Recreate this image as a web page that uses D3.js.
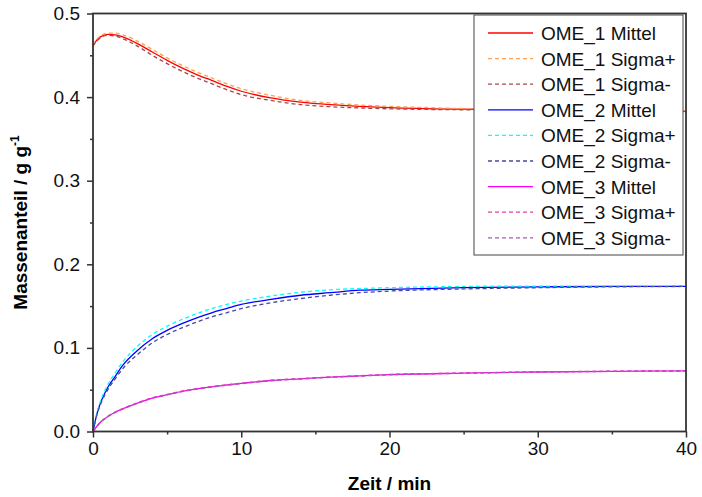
<!DOCTYPE html>
<meta charset="utf-8">
<script src="https://d3js.org/d3.v7.min.js"></script>
<body style="margin:0;background:#fff">
<div id="my_dataviz"></div>
</body>
<script>
    // time in minutes
    const zeit = [0, 0.25, 0.5, 1, 1.5, 2, 3, 4, 5, 6, 7, 8, 9, 10, 12, 14, 16, 18, 20, 25, 30, 35, 40];

    const ome1Mittel = [0.462, 0.468, 0.472, 0.475, 0.4745, 0.472, 0.464, 0.454, 0.444, 0.435, 0.427, 0.420, 0.413, 0.407, 0.399, 0.394, 0.391, 0.389, 0.3875, 0.3855, 0.3845, 0.3837, 0.383];
    const ome1SigmaPlus = [0.462, 0.469, 0.473, 0.4765, 0.4765, 0.4745, 0.467, 0.457, 0.447, 0.438, 0.430, 0.423, 0.416, 0.410, 0.402, 0.396, 0.393, 0.3905, 0.389, 0.3863, 0.385, 0.384, 0.3833];
    const ome1SigmaMinus = [0.461, 0.467, 0.471, 0.474, 0.473, 0.470, 0.461, 0.450, 0.440, 0.431, 0.423, 0.416, 0.409, 0.403, 0.396, 0.391, 0.3885, 0.387, 0.386, 0.3848, 0.384, 0.3833, 0.3828];

    const ome2Mittel = [0, 0.020, 0.034, 0.053, 0.066, 0.079, 0.097, 0.111, 0.121, 0.129, 0.136, 0.142, 0.147, 0.152, 0.158, 0.163, 0.166, 0.169, 0.170, 0.172, 0.173, 0.1735, 0.1737];
    const ome2SigmaPlus = [0, 0.021, 0.036, 0.056, 0.070, 0.083, 0.102, 0.116, 0.126, 0.134, 0.141, 0.147, 0.152, 0.156, 0.162, 0.1665, 0.1695, 0.171, 0.172, 0.1735, 0.174, 0.174, 0.1738];
    const ome2SigmaMinus = [0, 0.019, 0.032, 0.050, 0.063, 0.075, 0.092, 0.106, 0.116, 0.124, 0.131, 0.137, 0.142, 0.147, 0.154, 0.159, 0.163, 0.166, 0.168, 0.1705, 0.172, 0.173, 0.1735];

    const ome3Mittel = [0, 0.006, 0.011, 0.018, 0.023, 0.027, 0.034, 0.040, 0.044, 0.048, 0.051, 0.0535, 0.0556, 0.0575, 0.061, 0.063, 0.065, 0.0665, 0.068, 0.0698, 0.0712, 0.072, 0.0725];
    const ome3SigmaPlus = [0, 0.006, 0.0112, 0.0183, 0.0233, 0.0273, 0.0343, 0.0403, 0.0443, 0.0483, 0.0513, 0.0538, 0.0559, 0.0578, 0.0613, 0.0633, 0.0652, 0.0667, 0.0682, 0.0699, 0.0713, 0.0721, 0.0726];
    const ome3SigmaMinus = [0, 0.0058, 0.0108, 0.0177, 0.0227, 0.0267, 0.0337, 0.0397, 0.0437, 0.0477, 0.0507, 0.0532, 0.0553, 0.0572, 0.0607, 0.0627, 0.0648, 0.0663, 0.0678, 0.0697, 0.0711, 0.0719, 0.0724];

    const seriesNames = ["OME_1 Mittel", "OME_1 Sigma+", "OME_1 Sigma-", "OME_2 Mittel", "OME_2 Sigma+", "OME_2 Sigma-", "OME_3 Mittel", "OME_3 Sigma+", "OME_3 Sigma-"];
    const seriesValues = [ome1Mittel, ome1SigmaPlus, ome1SigmaMinus, ome2Mittel, ome2SigmaPlus, ome2SigmaMinus, ome3Mittel, ome3SigmaPlus, ome3SigmaMinus];
    const seriesColours = ["#ff0000", "#ffa050", "#a84848", "#0000ff", "#00ffff", "#4848a0", "#ff00ff", "#e8409a", "#a858b8"];

    const xTicks = [0, 10, 20, 30, 40];
    const yTicks = [0.0, 0.1, 0.2, 0.3, 0.4, 0.5];

    let width = 702, height = 497;
    let margin = {top: 13.5, right: 16, bottom: 65.5, left: 93};
    let innerW = width - margin.left - margin.right,
        innerH = height - margin.top - margin.bottom;

    const fontFam = "'Liberation Sans', Arial, sans-serif";
    const axisCol = "#333";

    var svg = d3.select("#my_dataviz")
        .append("svg")
        .attr("width", width)
        .attr("height", height)
        .style("display", "block")
        .append("g")
        .attr("transform", "translate(" + margin.left + "," + margin.top + ")");

    var x = d3.scaleLinear().domain([0, 40]).range([0, innerW]);
    var y = d3.scaleLinear().domain([0, 0.5]).range([innerH, 0]);

    // minor ticks
    svg.append("g")
        .attr("transform", "translate(0," + innerH + ")")
        .call(d3.axisBottom(x).tickValues([5, 15, 25, 35]).tickSize(3).tickFormat(""))
        .call(g => g.select(".domain").remove())
        .selectAll("line").attr("stroke", axisCol).attr("stroke-width", 1.5);
    svg.append("g")
        .call(d3.axisLeft(y).tickValues([0.05, 0.15, 0.25, 0.35, 0.45]).tickSize(3).tickFormat(""))
        .call(g => g.select(".domain").remove())
        .selectAll("line").attr("stroke", axisCol).attr("stroke-width", 1.5);

    // major ticks
    var xAxis = svg.append("g")
        .attr("transform", "translate(0," + innerH + ")")
        .call(d3.axisBottom(x).tickValues(xTicks).tickSize(6).tickPadding(4).tickFormat(d3.format("d")));
    xAxis.select(".domain").remove();
    xAxis.selectAll("line").attr("stroke", axisCol).attr("stroke-width", 1.5);
    xAxis.selectAll("text").style("font-family", fontFam).style("font-size", "19px").attr("fill", "#111");

    var yAxis = svg.append("g")
        .call(d3.axisLeft(y).tickValues(yTicks).tickSize(6).tickPadding(7).tickFormat(d3.format(".1f")));
    yAxis.select(".domain").remove();
    yAxis.selectAll("line").attr("stroke", axisCol).attr("stroke-width", 1.5);
    yAxis.selectAll("text").style("font-family", fontFam).style("font-size", "19px").attr("fill", "#111");

    // curves
    var line = d3.line()
        .x(function (d) { return x(d[0]); })
        .y(function (d) { return y(d[1]); })
        .curve(d3.curveMonotoneX);

    seriesValues.forEach(function (vals, i) {
        var pts = zeit.map(function (t, j) { return [t, vals[j]]; });
        svg.append("path")
            .datum(pts)
            .attr("fill", "none")
            .attr("stroke", seriesColours[i])
            .attr("stroke-width", 1.3)
            .attr("stroke-dasharray", i % 3 === 0 ? null : "4,3")
            .attr("d", line);
    });

    // frame
    svg.append("rect")
        .attr("x", 0).attr("y", 0)
        .attr("width", innerW).attr("height", innerH)
        .attr("fill", "none")
        .attr("stroke", axisCol)
        .attr("stroke-width", 1.8);

    // legend
    var legX = 381, legY = 1.5, legW = 209, legH = 240, rowH = 25.6;
    var legend = svg.append("g").attr("transform", "translate(" + legX + "," + legY + ")");
    legend.append("rect")
        .attr("width", legW).attr("height", legH)
        .attr("fill", "#fff")
        .attr("stroke", "#444")
        .attr("stroke-width", 1);
    seriesNames.forEach(function (name, i) {
        var ry = 18 + i * rowH;
        legend.append("line")
            .attr("x1", 14).attr("x2", 59)
            .attr("y1", ry).attr("y2", ry)
            .attr("stroke", seriesColours[i])
            .attr("stroke-width", 1.3)
            .attr("stroke-dasharray", i % 3 === 0 ? null : "4,3");
        legend.append("text")
            .attr("x", 67).attr("y", ry + 7)
            .style("font-family", fontFam)
            .style("font-size", "19px")
            .attr("fill", "#111")
            .text(name);
    });

    // axis titles
    svg.append("text")
        .attr("x", innerW / 2)
        .attr("y", innerH + 58)
        .attr("text-anchor", "middle")
        .style("font-family", fontFam)
        .style("font-size", "19px")
        .style("font-weight", "bold")
        .text("Zeit / min");

    var yt = svg.append("text")
        .attr("transform", "translate(-66," + (innerH / 2) + ") rotate(-90)")
        .attr("text-anchor", "middle")
        .style("font-family", fontFam)
        .style("font-size", "19px")
        .style("font-weight", "bold");
    yt.append("tspan").text("Massenanteil / g g");
    yt.append("tspan").attr("dy", -8).style("font-size", "12px").text("-1");
</script>
</html>
